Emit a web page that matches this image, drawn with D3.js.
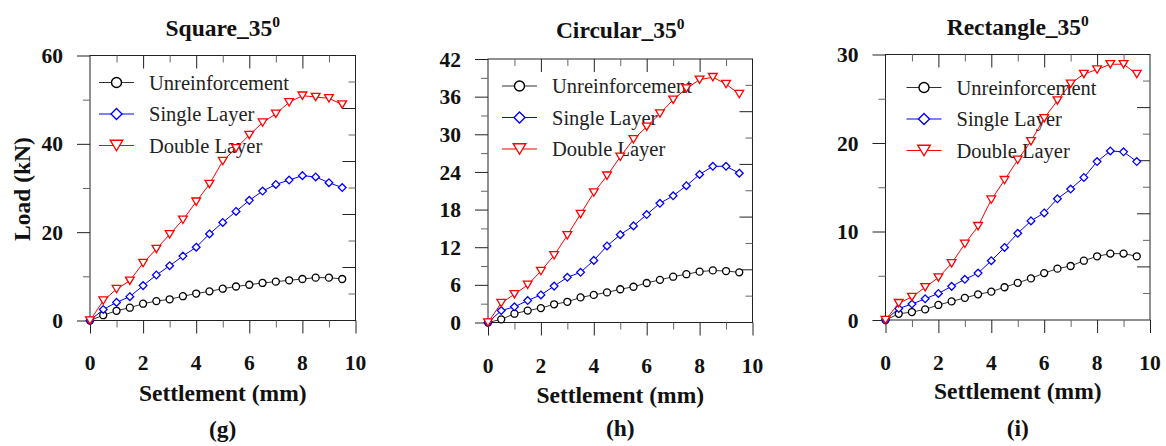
<!DOCTYPE html>
<html>
<head>
<meta charset="utf-8">
<script src="https://cdn.jsdelivr.net/npm/d3@7"></script>
<style>
  html, body { margin: 0; padding: 0; background: #fff; }
  svg { display: block; }
  svg text { font-family: "Liberation Serif", "DejaVu Serif", "Noto Serif", serif; }
</style>
</head>
<body>
<svg id="chart" width="1166" height="446"></svg>
<script>
// ---------------- DATA ----------------
const settlement = [0, 0.5, 1, 1.5, 2, 2.5, 3, 3.5, 4, 4.5, 5, 5.5, 6, 6.5, 7, 7.5, 8, 8.5, 9, 9.5];

const seriesNames = ["Unreinforcement", "Single Layer", "Double Layer"];

// Square_35
const squareUnreinforced = [0, 1.2, 2.2, 2.9, 3.8, 4.4, 4.8, 5.5, 6.1, 6.6, 7.2, 7.7, 8.1, 8.5, 8.8, 9.1, 9.4, 9.7, 9.7, 9.4];
const squareSingle       = [0, 2.5, 4.1, 5.4, 7.9, 10.3, 12.4, 14.6, 16.6, 19.6, 22.2, 24.7, 27.2, 29.3, 30.8, 31.8, 32.8, 32.5, 31.2, 30.1];
const squareDouble       = [0, 4.5, 7.1, 9.0, 13.0, 16.2, 19.5, 22.8, 26.9, 30.9, 36.1, 39.0, 42.0, 44.8, 46.8, 49.4, 50.9, 50.6, 50.3, 48.9];

// Circular_35
const circularUnreinforced = [0, 0.5, 1.4, 1.9, 2.3, 2.9, 3.3, 4.0, 4.4, 4.8, 5.3, 5.7, 6.3, 6.8, 7.3, 7.7, 8.1, 8.3, 8.2, 8.0];
const circularSingle       = [0, 1.9, 2.5, 3.5, 4.4, 5.8, 7.2, 8.0, 9.9, 12.2, 14.0, 15.4, 17.2, 19.0, 20.2, 21.8, 23.6, 24.9, 24.9, 23.8];
const circularDouble       = [0, 3.1, 4.5, 6.0, 8.2, 10.7, 13.9, 17.3, 20.7, 23.4, 26.4, 29.2, 31.2, 33.3, 35.5, 37.3, 38.7, 39.1, 38.0, 36.4];

// Rectangle_35
const rectangleUnreinforced = [0, 0.7, 0.9, 1.2, 1.7, 2.1, 2.5, 2.9, 3.2, 3.7, 4.2, 4.7, 5.3, 5.8, 6.1, 6.7, 7.2, 7.5, 7.5, 7.2];
const rectangleSingle       = [0, 1.3, 1.8, 2.4, 3.0, 3.8, 4.6, 5.3, 6.7, 8.2, 9.8, 11.2, 12.1, 13.7, 14.8, 16.1, 17.9, 19.1, 19.0, 17.9];
const rectangleDouble       = [0, 1.9, 2.6, 3.7, 4.8, 6.4, 8.6, 10.6, 13.6, 15.8, 18.1, 20.2, 22.8, 24.8, 26.7, 27.8, 28.3, 28.9, 28.9, 27.8];

const panelTitles = ["Square_35", "Circular_35", "Rectangle_35"];
const titleSuperscript = "0";
const subLabels = ["(g)", "(h)", "(i)"];
const xTitle = "Settlement (mm)";
const yTitle = "Load (kN)";

const xMajorTicks = [0, 2, 4, 6, 8, 10];
const xMinorTicks = [1, 3, 5, 7, 9];

const yMax = [60, 42, 30];
const yMajorTicks = [[0, 20, 40, 60], [0, 6, 12, 18, 24, 30, 36, 42], [0, 10, 20, 30]];
const yMinorTicks = [[10, 30, 50], [3, 9, 15, 21, 27, 33, 39], [5, 15, 25]];

// ---------------- LAYOUT / STYLE ----------------
const panelData = [
  [squareUnreinforced, squareSingle, squareDouble],
  [circularUnreinforced, circularSingle, circularDouble],
  [rectangleUnreinforced, rectangleSingle, rectangleDouble]
];
const layout = [
  { left: 90,  right: 355.5, top: 55.5, bottom: 320.5, titleY: 35.5, tickY: 370, xTitleY: 401, subY: 437, legX: 9,  legY: 27 },
  { left: 488, right: 752.5, top: 59,   bottom: 322.5, titleY: 37.5, tickY: 373, xTitleY: 403, subY: 436, legX: 14, legY: 27 },
  { left: 885.5, right: 1150, top: 54.5, bottom: 320, titleY: 35,  tickY: 369.5, xTitleY: 399, subY: 436, legX: 21, legY: 33 }
];
const colors = ["#000000", "#0000ff", "#ff0000"];
const lineColors = ["#333333", "#0000ff", "#ff0000"];
const FONT = '"Liberation Serif", "DejaVu Serif", "Noto Serif", serif';
const AX = "#222";
const MINOR = "#666";

const svg = d3.select("#chart");

function markerPath(type, cx, cy, s) {
  if (type === 0) {
    return `M${cx + s},${cy}A${s},${s} 0 1,1 ${cx - s},${cy}A${s},${s} 0 1,1 ${cx + s},${cy}Z`;
  } else if (type === 1) {
    const d = s * 1.1;
    return `M${cx},${cy - d}L${cx + d},${cy}L${cx},${cy + d}L${cx - d},${cy}Z`;
  } else {
    const w = s * 1.25, h = s * 1.05;
    return `M${cx - w},${cy - h}L${cx + w},${cy - h}L${cx},${cy + h}Z`;
  }
}

function txt(sel) { return sel.style("font-family", FONT); }

panelData.forEach((series, p) => {
  const L = layout[p];
  const x = d3.scaleLinear().domain([0, 10]).range([L.left, L.right]);
  const y = d3.scaleLinear().domain([0, yMax[p]]).range([L.bottom, L.top]);
  const g = svg.append("g");

  // frame
  g.append("rect")
    .attr("x", L.left).attr("y", L.top)
    .attr("width", L.right - L.left).attr("height", L.bottom - L.top)
    .attr("fill", "none").attr("stroke", AX).attr("stroke-width", 1);

  // bottom axis (outward)
  const xb = d3.axisBottom(x).tickValues(xMajorTicks).tickSize(13).tickFormat("");
  g.append("g").attr("transform", `translate(0,${L.bottom})`).call(xb)
    .call(a => { a.select(".domain").remove(); a.selectAll("line").attr("stroke", AX); });
  const xbm = d3.axisBottom(x).tickValues(xMinorTicks).tickSize(7).tickFormat("");
  g.append("g").attr("transform", `translate(0,${L.bottom})`).call(xbm)
    .call(a => { a.select(".domain").remove(); a.selectAll("line").attr("stroke", MINOR); });

  // x tick labels
  g.append("g").selectAll("text").data(xMajorTicks).join("text")
    .attr("x", d => x(d)).attr("y", L.tickY)
    .attr("text-anchor", "middle")
    .call(txt).attr("font-weight", "bold").attr("font-size", 21.5)
    .attr("fill", "#111")
    .text(d => d);

  // top axis ticks (inward)
  const xt = d3.axisBottom(x).tickValues(xMajorTicks.filter(v => v > 0 && v < 10)).tickSize(13).tickFormat("");
  g.append("g").attr("transform", `translate(0,${L.top})`).call(xt)
    .call(a => { a.select(".domain").remove(); a.selectAll("line").attr("stroke", AX); });
  const xtm = d3.axisBottom(x).tickValues(xMinorTicks).tickSize(7).tickFormat("");
  g.append("g").attr("transform", `translate(0,${L.top})`).call(xtm)
    .call(a => { a.select(".domain").remove(); a.selectAll("line").attr("stroke", MINOR); });

  // left axis (outward)
  const yl = d3.axisLeft(y).tickValues(yMajorTicks[p]).tickSize(13).tickPadding(14)
    .tickFormat(d => d);
  g.append("g").attr("transform", `translate(${L.left},0)`).call(yl)
    .call(a => {
      a.attr("font-family", null).attr("font-size", null);
      a.select(".domain").remove();
      a.selectAll("line").attr("stroke", AX);
      a.selectAll("text")
        .call(txt).attr("font-weight", "bold").attr("font-size", 21.5)
        .attr("fill", "#111").attr("dy", "0.33em");
    });
  const ylm = d3.axisLeft(y).tickValues(yMinorTicks[p]).tickSize(7).tickFormat("");
  g.append("g").attr("transform", `translate(${L.left},0)`).call(ylm)
    .call(a => { a.select(".domain").remove(); a.selectAll("line").attr("stroke", MINOR); });

  // right axis ticks (inward), ten divisions
  const rightTicks = d3.range(1, 10).map(k => k * yMax[p] / 10);
  g.append("g").selectAll("line").data(rightTicks).join("line")
    .attr("x1", L.right).attr("x2", (d, i) => L.right - ((i + 1) % 2 === 0 ? 13 : 7))
    .attr("y1", d => y(d)).attr("y2", d => y(d))
    .attr("stroke", (d, i) => (i + 1) % 2 === 0 ? AX : MINOR);

  // title
  const t = g.append("text")
    .attr("x", (L.left + L.right) / 2).attr("y", L.titleY)
    .attr("text-anchor", "middle")
    .call(txt).attr("font-weight", "bold").attr("font-size", 23.5)
    .attr("fill", "#111");
  t.append("tspan").text(panelTitles[p]);
  t.append("tspan").attr("dy", -9).attr("font-size", 15.5).text(titleSuperscript);

  // x title
  g.append("text")
    .attr("x", (L.left + L.right) / 2).attr("y", L.xTitleY)
    .attr("text-anchor", "middle")
    .call(txt).attr("font-weight", "bold").attr("font-size", 23.5)
    .attr("fill", "#111").text(xTitle);

  // sub label
  g.append("text")
    .attr("x", (L.left + L.right) / 2).attr("y", L.subY)
    .attr("text-anchor", "middle")
    .call(txt).attr("font-weight", "bold").attr("font-size", 23.5)
    .attr("fill", "#111").text(subLabels[p]);

  // y title on first panel
  if (p === 0) {
    g.append("text")
      .attr("transform", `translate(30,${(L.top + L.bottom) / 2 + 1}) rotate(-90)`)
      .attr("text-anchor", "middle")
      .call(txt).attr("font-weight", "bold").attr("font-size", 23.5)
      .attr("fill", "#111").text(yTitle);
  }

  // legend
  const lg = g.append("g").attr("transform", `translate(${L.left + L.legX},${L.top + L.legY})`);
  seriesNames.forEach((name, i) => {
    const ry = i * 31.5;
    lg.append("line").attr("x1", 0).attr("x2", 35).attr("y1", ry).attr("y2", ry)
      .attr("stroke", lineColors[i]).attr("stroke-width", 1.1);
    lg.append("path").attr("d", markerPath(i, 17.5, ry, 5))
      .attr("fill", "#fff").attr("stroke", colors[i]).attr("stroke-width", 1.4);
    lg.append("text").attr("x", 50).attr("y", ry + 7)
      .call(txt).attr("font-size", 20.5).attr("fill", "#222")
      .text(name);
  });

  // series
  const line = d3.line().x((d, i) => x(settlement[i])).y(d => y(d));
  series.forEach((vals, i) => {
    g.append("path").datum(vals).attr("d", line)
      .attr("fill", "none").attr("stroke", lineColors[i]).attr("stroke-width", 1);
    g.append("g").selectAll("path").data(vals).join("path")
      .attr("d", (d, j) => markerPath(i, x(settlement[j]), y(d), 3.5))
      .attr("fill", "#fff").attr("stroke", colors[i]).attr("stroke-width", 1.3);
  });
});
</script>
</body>
</html>
